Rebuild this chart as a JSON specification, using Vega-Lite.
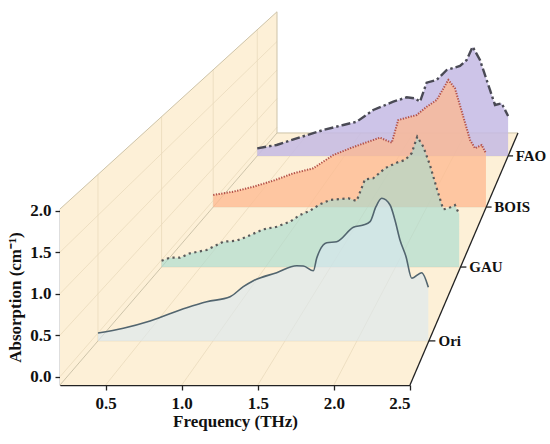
{
  "$schema": "https://vega.github.io/schema/vega-lite/v6.json",
  "width": 350,
  "height": 176,
  "autosize": {"type": "none"},
  "padding": {"left": 60, "top": 209, "right": 140, "bottom": 59},
  "config": {
    "view": {"stroke": null},
    "font": "Liberation Serif",
    "axis": {
      "labelFont": "Liberation Serif", "titleFont": "Liberation Serif",
      "labelFontSize": 17, "titleFontSize": 17,
      "labelFontWeight": "bold", "titleFontWeight": "bold",
      "labelColor": "#111", "titleColor": "#111",
      "domainColor": "#222", "domainWidth": 1.3,
      "tickColor": "#222", "tickWidth": 1.3, "tickSize": 5, "grid": false
    }
  },
  "datasets": {
    "ori": [
      {"f": 0.2, "a": 0.0}, {"f": 0.376, "a": 0.061}, {"f": 0.562, "a": 0.154}, {"f": 0.817, "a": 0.323},
      {"f": 0.956, "a": 0.399}, {"f": 1.118, "a": 0.463}, {"f": 1.21, "a": 0.591}, {"f": 1.28, "a": 0.667},
      {"f": 1.442, "a": 0.769}, {"f": 1.581, "a": 0.858}, {"f": 1.627, "a": 0.854}, {"f": 1.697, "a": 0.794},
      {"f": 1.72, "a": 0.952}, {"f": 1.743, "a": 1.058}, {"f": 1.79, "a": 1.151}, {"f": 1.859, "a": 1.164},
      {"f": 1.975, "a": 1.347}, {"f": 2.044, "a": 1.377}, {"f": 2.091, "a": 1.419}, {"f": 2.132, "a": 1.61},
      {"f": 2.172, "a": 1.717}, {"f": 2.23, "a": 1.631}, {"f": 2.264, "a": 1.44}, {"f": 2.299, "a": 1.185},
      {"f": 2.341, "a": 0.973}, {"f": 2.381, "a": 0.698}, {"f": 2.45, "a": 0.769}, {"f": 2.496, "a": 0.583}
    ],
    "gau": [
      {"f": 0.2, "a": -0.01}, {"f": 0.265, "a": 0.032}, {"f": 0.342, "a": 0.032}, {"f": 0.419, "a": 0.094},
      {"f": 0.547, "a": 0.141}, {"f": 0.675, "a": 0.258}, {"f": 0.778, "a": 0.272}, {"f": 0.855, "a": 0.328},
      {"f": 0.983, "a": 0.432}, {"f": 1.086, "a": 0.469}, {"f": 1.188, "a": 0.54}, {"f": 1.265, "a": 0.634},
      {"f": 1.342, "a": 0.695}, {"f": 1.419, "a": 0.785}, {"f": 1.496, "a": 0.846}, {"f": 1.547, "a": 0.855},
      {"f": 1.637, "a": 0.87}, {"f": 1.701, "a": 0.832}, {"f": 1.765, "a": 1.137}, {"f": 1.829, "a": 1.152},
      {"f": 1.919, "a": 1.293}, {"f": 2.009, "a": 1.372}, {"f": 2.073, "a": 1.41}, {"f": 2.124, "a": 1.504},
      {"f": 2.167, "a": 1.738}, {"f": 2.214, "a": 1.597}, {"f": 2.265, "a": 1.339}, {"f": 2.317, "a": 1.011},
      {"f": 2.367, "a": 0.714}, {"f": 2.406, "a": 0.729}, {"f": 2.457, "a": 0.775}, {"f": 2.49, "a": 0.648}
    ],
    "bois": [
      {"f": 0.2, "a": 0.087}, {"f": 0.369, "a": 0.138}, {"f": 0.538, "a": 0.215}, {"f": 0.706, "a": 0.308},
      {"f": 0.875, "a": 0.422}, {"f": 1.043, "a": 0.499}, {"f": 1.212, "a": 0.704}, {"f": 1.353, "a": 0.808},
      {"f": 1.493, "a": 0.901}, {"f": 1.605, "a": 0.972}, {"f": 1.704, "a": 0.894}, {"f": 1.759, "a": 1.245},
      {"f": 1.83, "a": 1.28}, {"f": 1.914, "a": 1.322}, {"f": 1.999, "a": 1.45}, {"f": 2.083, "a": 1.554},
      {"f": 2.181, "a": 1.864}, {"f": 2.237, "a": 1.734}, {"f": 2.307, "a": 1.296}, {"f": 2.364, "a": 0.936},
      {"f": 2.406, "a": 0.808}, {"f": 2.462, "a": 0.859}, {"f": 2.498, "a": 0.731}
    ],
    "fao": [
      {"f": 0.2, "a": 0.028}, {"f": 0.378, "a": 0.084}, {"f": 0.592, "a": 0.213}, {"f": 0.806, "a": 0.336},
      {"f": 0.989, "a": 0.42}, {"f": 1.112, "a": 0.475}, {"f": 1.264, "a": 0.672}, {"f": 1.447, "a": 0.811},
      {"f": 1.57, "a": 0.885}, {"f": 1.646, "a": 0.868}, {"f": 1.692, "a": 0.811}, {"f": 1.753, "a": 1.131},
      {"f": 1.845, "a": 1.176}, {"f": 1.937, "a": 1.344}, {"f": 2.059, "a": 1.411}, {"f": 2.12, "a": 1.512},
      {"f": 2.175, "a": 1.735}, {"f": 2.242, "a": 1.512}, {"f": 2.334, "a": 1.008}, {"f": 2.38, "a": 0.756},
      {"f": 2.441, "a": 0.784}, {"f": 2.5, "a": 0.571}
    ],
    "floor": [
      {"t": 0, "flo": 0.2, "fhi": 2.5, "v": -0.1},
      {"t": 1, "flo": 0.2, "fhi": 2.5, "v": -0.1}
    ],
    "wall": [
      {"t": 0, "f": 0.2, "vlo": -0.1, "vhi": 2.02},
      {"t": 1, "f": 0.2, "vlo": -0.1, "vhi": 2.02}
    ],
    "segments": [
      {"kind": "grid", "f1": 0.5, "t1": 0, "v1": -0.1, "f2": 0.5, "t2": 1, "v2": -0.1},
      {"kind": "grid", "f1": 1.0, "t1": 0, "v1": -0.1, "f2": 1.0, "t2": 1, "v2": -0.1},
      {"kind": "grid", "f1": 1.5, "t1": 0, "v1": -0.1, "f2": 1.5, "t2": 1, "v2": -0.1},
      {"kind": "grid", "f1": 2.0, "t1": 0, "v1": -0.1, "f2": 2.0, "t2": 1, "v2": -0.1},
      {"kind": "grid", "f1": 0.2, "t1": 0, "v1": 0.0, "f2": 0.2, "t2": 1, "v2": 0.0},
      {"kind": "grid", "f1": 0.2, "t1": 0, "v1": 0.5, "f2": 0.2, "t2": 1, "v2": 0.5},
      {"kind": "grid", "f1": 0.2, "t1": 0, "v1": 1.0, "f2": 0.2, "t2": 1, "v2": 1.0},
      {"kind": "grid", "f1": 0.2, "t1": 0, "v1": 1.5, "f2": 0.2, "t2": 1, "v2": 1.5},
      {"kind": "grid", "f1": 0.2, "t1": 0.175, "v1": -0.1, "f2": 0.2, "t2": 0.175, "v2": 2.02},
      {"kind": "grid", "f1": 0.2, "t1": 0.468, "v1": -0.1, "f2": 0.2, "t2": 0.468, "v2": 2.02},
      {"kind": "grid", "f1": 0.2, "t1": 0.706, "v1": -0.1, "f2": 0.2, "t2": 0.706, "v2": 2.02},
      {"kind": "grid", "f1": 0.2, "t1": 0.909, "v1": -0.1, "f2": 0.2, "t2": 0.909, "v2": 2.02},
      {"kind": "grid", "f1": 0.2, "t1": 0.175, "v1": -0.1, "f2": 2.5, "t2": 0.175, "v2": -0.1},
      {"kind": "grid", "f1": 0.2, "t1": 0.468, "v1": -0.1, "f2": 2.5, "t2": 0.468, "v2": -0.1},
      {"kind": "grid", "f1": 0.2, "t1": 0.706, "v1": -0.1, "f2": 2.5, "t2": 0.706, "v2": -0.1},
      {"kind": "grid", "f1": 0.2, "t1": 0.909, "v1": -0.1, "f2": 2.5, "t2": 0.909, "v2": -0.1},
      {"kind": "edge", "f1": 0.2, "t1": 0, "v1": 2.02, "f2": 0.2, "t2": 1, "v2": 2.02},
      {"kind": "edge", "f1": 0.2, "t1": 1, "v1": -0.1, "f2": 0.2, "t2": 1, "v2": 2.02},
      {"kind": "edge", "f1": 0.2, "t1": 1, "v1": -0.1, "f2": 2.5, "t2": 1, "v2": -0.1},
      {"kind": "edge", "f1": 0.2, "t1": 0, "v1": -0.1, "f2": 0.2, "t2": 1, "v2": -0.1},
      {"kind": "axis", "f1": 2.5, "t1": 0, "v1": -0.1, "f2": 2.5, "t2": 1, "v2": -0.1},
      {"kind": "axis", "f1": 2.5, "t1": 0.175, "v1": -0.1, "f2": 2.545, "t2": 0.175, "v2": -0.1},
      {"kind": "axis", "f1": 2.5, "t1": 0.468, "v1": -0.1, "f2": 2.545, "t2": 0.468, "v2": -0.1},
      {"kind": "axis", "f1": 2.5, "t1": 0.706, "v1": -0.1, "f2": 2.545, "t2": 0.706, "v2": -0.1},
      {"kind": "axis", "f1": 2.5, "t1": 0.909, "v1": -0.1, "f2": 2.545, "t2": 0.909, "v2": -0.1}
    ],
    "labels": [
      {"label": "Ori", "t": 0.175, "f": 2.56, "v": -0.1},
      {"label": "GAU", "t": 0.468, "f": 2.56, "v": -0.1},
      {"label": "BOIS", "t": 0.706, "f": 2.56, "v": -0.1},
      {"label": "FAO", "t": 0.909, "f": 2.56, "v": -0.1}
    ]
  },
  "layer": [
    {
      "layer": [
        {
          "data": {"name": "floor"},
          "transform": [
            {"calculate": "0.2 + 1.426*datum.t + (datum.flo-0.2)*(1-0.3115*datum.t)", "as": "Xlo"},
            {"calculate": "0.2 + 1.426*datum.t + (datum.fhi-0.2)*(1-0.3115*datum.t)", "as": "Xhi"},
            {"calculate": "-0.1 + 3.036*datum.t + (datum.v+0.1)*(1-0.3115*datum.t)", "as": "Y"}
          ],
          "mark": {"type": "area", "orient": "horizontal", "color": "#fdf0d7"},
          "encoding": {
            "y": {"field": "Y", "type": "quantitative", "scale": {"domain": [-0.1, 2.02], "nice": false, "zero": false}},
            "x": {"field": "Xlo", "type": "quantitative", "scale": {"domain": [0.2, 2.5], "nice": false, "zero": false}},
            "x2": {"field": "Xhi"}
          }
        },
        {
          "data": {"name": "wall"},
          "transform": [
            {"calculate": "0.2 + 1.426*datum.t + (datum.f-0.2)*(1-0.3115*datum.t)", "as": "X"},
            {"calculate": "-0.1 + 3.036*datum.t + (datum.vlo+0.1)*(1-0.3115*datum.t)", "as": "Ylo"},
            {"calculate": "-0.1 + 3.036*datum.t + (datum.vhi+0.1)*(1-0.3115*datum.t)", "as": "Yhi"}
          ],
          "mark": {"type": "area", "orient": "vertical", "color": "#fdf0d7"},
          "encoding": {
            "x": {"field": "X", "type": "quantitative", "scale": {"domain": [0.2, 2.5], "nice": false, "zero": false},
              "axis": {"values": [0.5, 1, 1.5, 2, 2.5], "format": ".1f", "title": "Frequency (THz)", "labelPadding": 5, "titlePadding": 2}},
            "y": {"field": "Yhi", "type": "quantitative", "scale": {"domain": [-0.1, 2.02], "nice": false, "zero": false},
              "axis": {"values": [0, 0.5, 1, 1.5, 2], "format": ".1f", "title": "Absorption (cm⁻¹)", "labelPadding": 4, "titlePadding": 5}},
            "y2": {"field": "Ylo"}
          }
        },
        {
          "data": {"name": "segments"},
          "transform": [
            {"filter": "datum.kind == 'grid'"},
            {"calculate": "0.2 + 1.426*datum.t1 + (datum.f1-0.2)*(1-0.3115*datum.t1)", "as": "X1"},
            {"calculate": "0.2 + 1.426*datum.t2 + (datum.f2-0.2)*(1-0.3115*datum.t2)", "as": "X2"},
            {"calculate": "-0.1 + 3.036*datum.t1 + (datum.v1+0.1)*(1-0.3115*datum.t1)", "as": "Y1"},
            {"calculate": "-0.1 + 3.036*datum.t2 + (datum.v2+0.1)*(1-0.3115*datum.t2)", "as": "Y2"}
          ],
          "mark": {"type": "rule", "color": "#eadbbd", "strokeWidth": 0.8},
          "encoding": {
            "x": {"field": "X1", "type": "quantitative", "scale": {"domain": [0.2, 2.5], "nice": false, "zero": false}},
            "x2": {"field": "X2"},
            "y": {"field": "Y1", "type": "quantitative", "scale": {"domain": [-0.1, 2.02], "nice": false, "zero": false}},
            "y2": {"field": "Y2"}
          }
        },
        {
          "data": {"name": "segments"},
          "transform": [
            {"filter": "datum.kind == 'edge'"},
            {"calculate": "0.2 + 1.426*datum.t1 + (datum.f1-0.2)*(1-0.3115*datum.t1)", "as": "X1"},
            {"calculate": "0.2 + 1.426*datum.t2 + (datum.f2-0.2)*(1-0.3115*datum.t2)", "as": "X2"},
            {"calculate": "-0.1 + 3.036*datum.t1 + (datum.v1+0.1)*(1-0.3115*datum.t1)", "as": "Y1"},
            {"calculate": "-0.1 + 3.036*datum.t2 + (datum.v2+0.1)*(1-0.3115*datum.t2)", "as": "Y2"}
          ],
          "mark": {"type": "rule", "color": "#cdc3a8", "strokeWidth": 1},
          "encoding": {
            "x": {"field": "X1", "type": "quantitative", "scale": {"domain": [0.2, 2.5], "nice": false, "zero": false}},
            "x2": {"field": "X2"},
            "y": {"field": "Y1", "type": "quantitative", "scale": {"domain": [-0.1, 2.02], "nice": false, "zero": false}},
            "y2": {"field": "Y2"}
          }
        }
      ]
    },
    {
      "data": {"name": "fao"},
      "encoding": {
        "x": {"field": "f", "type": "quantitative", "scale": {"domain": [0.2, 2.5], "range": [197.25, 448.1], "nice": false, "zero": false}, "axis": null},
        "y": {"field": "a", "type": "quantitative", "scale": {"domain": [-0.1, 2.02], "range": [-53.07, -179.23], "nice": false, "zero": false}, "axis": null}
      },
      "layer": [
        {"mark": {"type": "area", "color": "#c4bae4", "opacity": 0.85}, "encoding": {"y2": {"datum": -0.1}}},
        {"mark": {"type": "line", "color": "#4a4a55", "strokeWidth": 2.4, "strokeDash": [9, 3, 2.5, 3]}}
      ]
    },
    {
      "data": {"name": "bois"},
      "encoding": {
        "x": {"field": "f", "type": "quantitative", "scale": {"domain": [0.2, 2.5], "range": [153.2, 426.2], "nice": false, "zero": false}, "axis": null},
        "y": {"field": "a", "type": "quantitative", "scale": {"domain": [-0.1, 2.02], "range": [-1.91, -139.2], "nice": false, "zero": false}, "axis": null}
      },
      "layer": [
        {"mark": {"type": "area", "color": "#fdb88f", "opacity": 0.75}, "encoding": {"y2": {"datum": -0.1}}},
        {"mark": {"type": "line", "color": "#b4524a", "strokeWidth": 2, "strokeDash": [1.3, 1.4]}}
      ]
    },
    {
      "data": {"name": "gau"},
      "encoding": {
        "x": {"field": "f", "type": "quantitative", "scale": {"domain": [0.2, 2.5], "range": [101.56, 400.5], "nice": false, "zero": false}, "axis": null},
        "y": {"field": "a", "type": "quantitative", "scale": {"domain": [-0.1, 2.02], "range": [58.06, -92.28], "nice": false, "zero": false}, "axis": null}
      },
      "layer": [
        {"mark": {"type": "area", "color": "#a6dbd0", "opacity": 0.63}, "encoding": {"y2": {"datum": -0.1}}},
        {"mark": {"type": "line", "color": "#5a5a5a", "strokeWidth": 2.2, "strokeDash": [2.2, 3.5]}}
      ]
    },
    {
      "data": {"name": "ori"},
      "encoding": {
        "x": {"field": "f", "type": "quantitative", "scale": {"domain": [0.2, 2.5], "range": [37.98, 368.9], "nice": false, "zero": false}, "axis": null},
        "y": {"field": "a", "type": "quantitative", "scale": {"domain": [-0.1, 2.02], "range": [131.9, -34.5], "nice": false, "zero": false}, "axis": null}
      },
      "layer": [
        {"mark": {"type": "area", "color": "#d8e8f2", "opacity": 0.6, "interpolate": "monotone"}, "encoding": {"y2": {"datum": -0.1}}},
        {"mark": {"type": "line", "color": "#52656f", "strokeWidth": 1.6, "interpolate": "monotone"}}
      ]
    },
    {
      "layer": [
        {
          "data": {"name": "segments"},
          "transform": [
            {"filter": "datum.kind == 'axis'"},
            {"calculate": "0.2 + 1.426*datum.t1 + (datum.f1-0.2)*(1-0.3115*datum.t1)", "as": "X1"},
            {"calculate": "0.2 + 1.426*datum.t2 + (datum.f2-0.2)*(1-0.3115*datum.t2)", "as": "X2"},
            {"calculate": "-0.1 + 3.036*datum.t1 + (datum.v1+0.1)*(1-0.3115*datum.t1)", "as": "Y1"},
            {"calculate": "-0.1 + 3.036*datum.t2 + (datum.v2+0.1)*(1-0.3115*datum.t2)", "as": "Y2"}
          ],
          "mark": {"type": "rule", "color": "#222", "strokeWidth": 1.3},
          "encoding": {
            "x": {"field": "X1", "type": "quantitative", "scale": {"domain": [0.2, 2.5], "nice": false, "zero": false}, "axis": null},
            "x2": {"field": "X2"},
            "y": {"field": "Y1", "type": "quantitative", "scale": {"domain": [-0.1, 2.02], "nice": false, "zero": false}, "axis": null},
            "y2": {"field": "Y2"}
          }
        },
        {
          "data": {"name": "labels"},
          "transform": [
            {"calculate": "0.2 + 1.426*datum.t + (datum.f-0.2)*(1-0.3115*datum.t)", "as": "X"},
            {"calculate": "-0.1 + 3.036*datum.t + (datum.v+0.1)*(1-0.3115*datum.t)", "as": "Y"}
          ],
          "mark": {"type": "text", "align": "left", "baseline": "middle", "dx": 1, "font": "Liberation Serif", "fontWeight": "bold", "fontSize": 15, "color": "#111"},
          "encoding": {
            "x": {"field": "X", "type": "quantitative", "scale": {"domain": [0.2, 2.5], "nice": false, "zero": false}, "axis": null},
            "y": {"field": "Y", "type": "quantitative", "scale": {"domain": [-0.1, 2.02], "nice": false, "zero": false}, "axis": null},
            "text": {"field": "label"}
          }
        }
      ]
    }
  ],
  "resolve": {"scale": {"x": "independent", "y": "independent"}}
}
